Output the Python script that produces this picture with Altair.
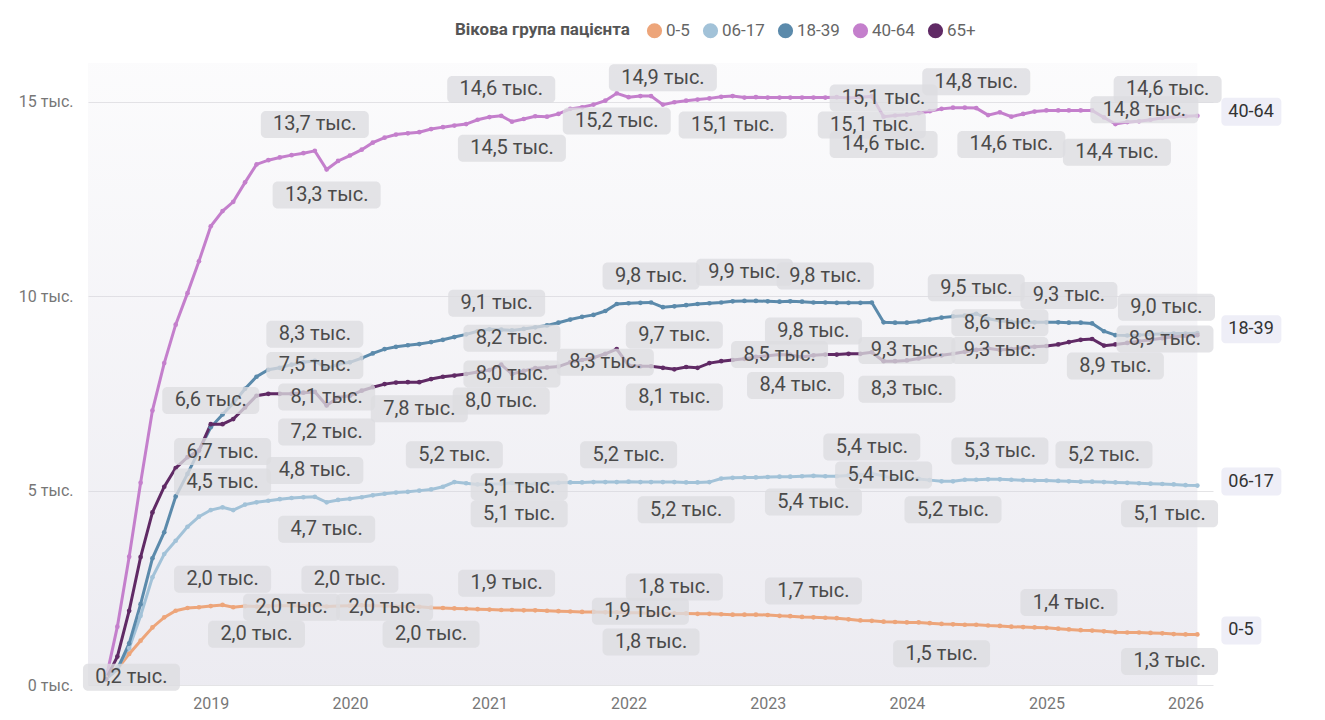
import altair as alt
import pandas as pd

# ---------------- data ----------------
months = pd.date_range("2018-04-01", periods=95, freq="MS")

groups = ["0-5", "06-17", "18-39", "40-64", "65+"]
colors = ["#EDA57A", "#A2C2D8", "#5B8AAB", "#C47FCC", "#602A65"]

v_0_5 = [0.20, 0.41, 0.80, 1.14, 1.48, 1.74, 1.91, 1.98, 2.00, 2.03,
         2.06, 2.00, 2.03, 2.02, 2.03, 2.04, 2.04, 2.03, 2.05, 2.02,
         2.03, 2.04, 2.05, 2.04, 2.03, 2.02, 2.02, 2.01, 1.99, 1.98,
         1.97, 1.96, 1.95, 1.94, 1.93, 1.93, 1.92, 1.92, 1.91, 1.90,
         1.89, 1.88, 1.88, 1.87, 1.87, 1.86, 1.86, 1.84, 1.84, 1.84,
         1.84, 1.83, 1.83, 1.82, 1.81, 1.81, 1.81, 1.80, 1.78, 1.77,
         1.75, 1.74, 1.73, 1.72, 1.69, 1.66, 1.65, 1.63, 1.62, 1.61,
         1.61, 1.59, 1.57, 1.56, 1.55, 1.55, 1.53, 1.52, 1.50, 1.49,
         1.48, 1.47, 1.45, 1.43, 1.41, 1.40, 1.38, 1.36, 1.35, 1.35,
         1.34, 1.33, 1.31, 1.30, 1.30]

v_06_17 = [0.15, 0.45, 0.95, 1.78, 2.77, 3.37, 3.71, 4.07, 4.33, 4.50,
           4.57, 4.50, 4.64, 4.70, 4.74, 4.78, 4.81, 4.83, 4.84, 4.70,
           4.76, 4.79, 4.83, 4.88, 4.92, 4.95, 4.97, 5.00, 5.03, 5.10,
           5.22, 5.19, 5.16, 5.17, 5.18, 5.20, 5.14, 5.18, 5.19, 5.20,
           5.21, 5.21, 5.22, 5.22, 5.22, 5.23, 5.22, 5.22, 5.22, 5.22,
           5.21, 5.21, 5.22, 5.31, 5.33, 5.34, 5.34, 5.35, 5.36, 5.36,
           5.37, 5.38, 5.37, 5.37, 5.39, 5.40, 5.44, 5.38, 5.30, 5.31,
           5.30, 5.27, 5.24, 5.24, 5.28, 5.28, 5.29, 5.29, 5.28, 5.27,
           5.26, 5.26, 5.25, 5.24, 5.23, 5.23, 5.22, 5.21, 5.20, 5.19,
           5.18, 5.17, 5.16, 5.14, 5.13]

v_18_39 = [0.15, 0.40, 1.07, 2.08, 3.26, 3.93, 4.85, 5.43, 6.03, 6.63,
           6.96, 7.25, 7.62, 7.93, 8.11, 8.16, 8.24, 8.30, 8.34, 8.14,
           8.25, 8.30, 8.41, 8.53, 8.64, 8.70, 8.74, 8.77, 8.82, 8.88,
           8.95, 9.02, 9.10, 9.15, 9.14, 9.12, 9.16, 9.20, 9.25, 9.32,
           9.40, 9.47, 9.52, 9.62, 9.80, 9.82, 9.83, 9.84, 9.72, 9.74,
           9.77, 9.80, 9.82, 9.84, 9.87, 9.88, 9.88, 9.87, 9.86, 9.87,
           9.86, 9.84, 9.84, 9.83, 9.83, 9.83, 9.84, 9.33, 9.32, 9.32,
           9.35, 9.40, 9.45, 9.48, 9.50, 9.55, 9.42, 9.37, 9.34, 9.33,
           9.33, 9.33, 9.33, 9.32, 9.32, 9.30, 9.10, 9.00, 8.99, 9.00,
           9.02, 9.03, 9.04, 9.04, 9.05]

v_40_64 = [0.15, 1.50, 3.30, 5.20, 7.06, 8.28, 9.27, 10.08, 10.90, 11.80,
           12.19, 12.43, 12.93, 13.39, 13.50, 13.57, 13.63, 13.68, 13.74, 13.26,
           13.48, 13.62, 13.77, 13.95, 14.08, 14.16, 14.19, 14.22, 14.30, 14.35,
           14.39, 14.43, 14.54, 14.61, 14.64, 14.49, 14.56, 14.63, 14.62, 14.69,
           14.82, 14.86, 14.93, 15.03, 15.22, 15.12, 15.15, 15.15, 14.93, 14.99,
           15.03, 15.06, 15.09, 15.13, 15.15, 15.11, 15.12, 15.11, 15.11, 15.11,
           15.11, 15.11, 15.11, 15.12, 15.10, 15.12, 15.14, 14.62, 14.65, 14.67,
           14.71, 14.76, 14.82, 14.85, 14.85, 14.84, 14.66, 14.73, 14.62, 14.69,
           14.75, 14.78, 14.78, 14.78, 14.78, 14.78, 14.60, 14.43, 14.48, 14.50,
           14.54, 14.59, 14.62, 14.63, 14.64]

v_65 = [0.15, 0.73, 1.91, 3.29, 4.44, 5.10, 5.58, 5.86, 6.03, 6.71,
        6.71, 6.84, 7.14, 7.44, 7.49, 7.49, 7.49, 7.52, 7.54, 7.19,
        7.40, 7.44, 7.57, 7.66, 7.74, 7.78, 7.79, 7.79, 7.87, 7.93,
        7.96, 8.00, 8.05, 8.10, 8.24, 8.00, 8.08, 8.15, 8.17, 8.19,
        8.30, 8.36, 8.42, 8.52, 8.64, 8.22, 8.20, 8.20, 8.16, 8.12,
        8.18, 8.16, 8.28, 8.33, 8.36, 8.39, 8.44, 8.47, 8.50, 8.49,
        8.44, 8.48, 8.50, 8.50, 8.52, 8.52, 8.56, 8.33, 8.33, 8.35,
        8.40, 8.45, 8.48, 8.52, 8.57, 8.62, 8.66, 8.62, 8.64, 8.68,
        8.70, 8.72, 8.76, 8.82, 8.88, 8.90, 8.73, 8.76, 8.80, 8.84,
        8.88, 8.92, 8.96, 8.98, 9.00]

y_ticks = [0, 5, 10, 15]
x_tick_years = [2019, 2020, 2021, 2022, 2023, 2024, 2025, 2026]
end_groups = ["40-64", "18-39", "06-17", "0-5"]

# data labels: date, value shown, placement relative to that value
lbl_date = [
    "2018-06-07", "2019-02-01", "2019-05-01", "2019-08-01", "2020-01-01", "2020-04-01", "2020-08-01",
    "2021-02-15", "2022-02-01", "2022-03-01", "2022-05-01", "2023-05-01", "2024-04-01", "2025-03-01", "2025-11-20",
    "2019-02-01", "2019-10-01", "2019-11-01", "2020-10-01", "2021-03-20", "2021-03-20", "2022-01-01",
    "2022-06-01", "2023-05-01", "2023-10-01", "2023-11-01", "2024-05-01", "2024-09-01", "2025-06-01", "2025-11-20",
    "2019-01-01", "2019-10-01", "2019-11-01", "2021-01-20", "2022-03-01", "2022-05-01", "2022-11-01",
    "2023-05-01", "2023-06-01", "2024-01-01", "2024-07-01", "2024-09-01", "2025-03-01", "2025-11-12",
    "2019-02-01", "2019-10-01", "2019-11-01", "2020-07-01", "2021-02-01", "2021-03-01", "2021-03-01",
    "2021-11-01", "2022-05-01", "2023-02-01", "2023-03-15", "2024-01-01", "2024-09-01", "2025-07-01", "2025-11-08",
    "2019-10-01", "2019-11-01", "2021-02-01", "2021-03-01", "2021-12-01", "2022-04-01", "2022-10-01",
    "2023-10-01", "2023-11-01", "2023-11-01", "2024-07-01", "2024-10-01", "2025-09-15", "2025-07-05", "2025-11-15",
]
lbl_value = [
    0.2, 2.0, 2.0, 2.0, 2.0, 2.0, 2.0,
    1.9, 1.9, 1.8, 1.8, 1.7, 1.5, 1.4, 1.3,
    4.5, 4.8, 4.7, 5.2, 5.1, 5.1, 5.2,
    5.2, 5.4, 5.4, 5.4, 5.2, 5.3, 5.2, 5.1,
    6.6, 8.3, 8.1, 9.1, 9.8, 9.7, 9.9,
    9.8, 9.8, 9.3, 9.5, 9.3, 9.3, 9.0,
    6.7, 7.5, 7.2, 7.8, 8.0, 8.2, 8.0,
    8.3, 8.1, 8.5, 8.4, 8.3, 8.6, 8.9, 8.9,
    13.7, 13.3, 14.6, 14.5, 15.2, 14.9, 15.1,
    15.1, 15.1, 14.6, 14.8, 14.6, 14.8, 14.4, 14.6,
]
lbl_place = [
    "on", "above", "below", "on", "above", "on", "below",
    "above", "on", "below", "above", "above", "below", "above", "below",
    "above", "above", "below", "above", "on", "below", "above",
    "below", "below", "above", "on", "below", "above", "above", "below",
    "above", "above", "below", "above", "above", "below", "above",
    "below", "above", "below", "above", "below", "above", "above",
    "below", "above", "below", "below", "below", "above", "on",
    "on", "below", "on", "below", "below", "above", "below", "on",
    "above", "below", "above", "below", "below", "above", "below",
    "below", "on", "below", "above", "below", "on", "below", "above",
]

# ---------------- layout ----------------
W, H = 1125, 622
Y_MAX = 16
X_START = pd.Timestamp("2018-02-13")
X_END = pd.Timestamp("2026-03-14")
PX_PER_DAY = W / (X_END - X_START).days
PX_PER_K = H / Y_MAX
FONT = "Roboto"


def td(px):
    return pd.Timedelta(days=px / PX_PER_DAY)


def fmt(v):
    return f"{v:.1f}".replace(".", ",") + " тыс."


series = [v_0_5, v_06_17, v_18_39, v_40_64, v_65]
rows = []
for g, vals in zip(groups, series):
    for d, v in zip(months, vals):
        rows.append({"date": d, "value": v, "group": g})
df = pd.DataFrame(rows)

place_px = {"above": 28, "below": -27, "on": 0}
lab = pd.DataFrame({"date": pd.to_datetime(lbl_date), "value": lbl_value, "place": lbl_place})
lab["cy"] = lab["value"] + lab["place"].map(place_px) / PX_PER_K
lab["y0"] = lab["cy"] - 13.5 / PX_PER_K
lab["y1"] = lab["cy"] + 13.5 / PX_PER_K
lab["wpx"] = lab["value"].apply(lambda v: 108 if v >= 10 else 97)
lab["x0"] = [d - td(w / 2) for d, w in zip(lab["date"], lab["wpx"])]
lab["x1"] = [d + td(w / 2) for d, w in zip(lab["date"], lab["wpx"])]
lab["text"] = lab["value"].apply(fmt)

last = months[-1]
end_rows = []
for g in end_groups:
    v = series[groups.index(g)][-1]
    tw = 26 if len(g) <= 3 else 46
    end_rows.append({
        "group": g,
        "cy": v + 4 / PX_PER_K,
        "y0": v + 4 / PX_PER_K - 14 / PX_PER_K,
        "y1": v + 4 / PX_PER_K + 14 / PX_PER_K,
        "tx": last + td(31),
        "x0": last + td(24),
        "x1": last + td(31 + tw + 7),
    })
end_df = pd.DataFrame(end_rows)

bg_df = pd.DataFrame({"start": [X_START], "end": [months[-1]], "y0": [0], "y1": [Y_MAX]})

# ---------------- chart ----------------
xs = alt.Scale(domain=[alt.DateTime(year=2018, month=2, date=13), alt.DateTime(year=2026, month=3, date=14)])
ys = alt.Scale(domain=[0, Y_MAX], nice=False, zero=True)
cs = alt.Scale(domain=groups, range=colors)

x_axis = alt.Axis(values=[alt.DateTime(year=y, month=1, date=1) for y in x_tick_years], format="%Y",
                  grid=False, domain=False, ticks=False, labelPadding=10, labelFontSize=16,
                  labelColor="#777777", labelFont=FONT, title=None)
y_axis = alt.Axis(values=y_ticks, labelExpr="datum.value + ' тыс.'", grid=True, gridColor="#E4E4E6",
                  gridWidth=1, domain=False, ticks=False, labelPadding=15, labelFontSize=16,
                  labelColor="#777777", labelFont=FONT, title=None)

legend = alt.Legend(title="Вікова група пацієнта", orient="none", legendX=367, legendY=-41,
                    direction="horizontal", titleOrient="left", titleFont=FONT, titleFontSize=17,
                    titleFontWeight="bold", titleColor="#555555", labelFont=FONT, labelFontSize=17,
                    labelColor="#666666", symbolType="circle", symbolSize=230, symbolStrokeWidth=0,
                    columnPadding=12, labelOffset=3, titlePadding=16, symbolOpacity=1)


def X(field):
    return alt.X(field, scale=xs, axis=x_axis)


def Y(field):
    return alt.Y(field, scale=ys, axis=y_axis)


grad = alt.Gradient(gradient="linear",
                    stops=[alt.GradientStop(color="rgba(210,208,222,0.08)", offset=0),
                           alt.GradientStop(color="rgba(210,208,222,0.42)", offset=1)],
                    x1=0, x2=0, y1=0, y2=1)

bg = alt.Chart(bg_df).mark_rect(fill=grad).encode(
    x=X("start:T"), x2="end:T", y=Y("y0:Q"), y2="y1:Q")

lines = alt.Chart(df).mark_line(strokeWidth=3).encode(
    x=X("date:T"), y=Y("value:Q"),
    color=alt.Color("group:N", scale=cs, legend=legend))

points = alt.Chart(df).mark_circle(size=22, opacity=1).encode(
    x=X("date:T"), y=Y("value:Q"),
    color=alt.Color("group:N", scale=cs, legend=legend))

boxes = alt.Chart(lab).mark_rect(fill="#DCDCE0", opacity=0.78, cornerRadius=5).encode(
    x=X("x0:T"), x2="x1:T", y=Y("y0:Q"), y2="y1:Q")

texts = alt.Chart(lab).mark_text(font=FONT, fontSize=20, color="#4A4A4A").encode(
    x=X("date:T"), y=Y("cy:Q"), text="text:N")

end_boxes = alt.Chart(end_df).mark_rect(fill="#EEEEF7", cornerRadius=4).encode(
    x=X("x0:T"), x2="x1:T", y=Y("y0:Q"), y2="y1:Q")

end_texts = alt.Chart(end_df).mark_text(font=FONT, fontSize=18, color="#333333",
                                        align="left").encode(
    x=X("tx:T"), y=Y("cy:Q"), text="group:N")

chart = alt.layer(bg, lines, points, boxes, texts, end_boxes, end_texts).properties(
    width=W, height=H, autosize=alt.AutoSizeParams(type="none"),
    padding={"left": 80, "top": 55, "right": 77, "bottom": 27},
    background="white",
).configure_view(stroke=None)

chart.save("out.html", embed_options={"renderer": "svg", "actions": False})
